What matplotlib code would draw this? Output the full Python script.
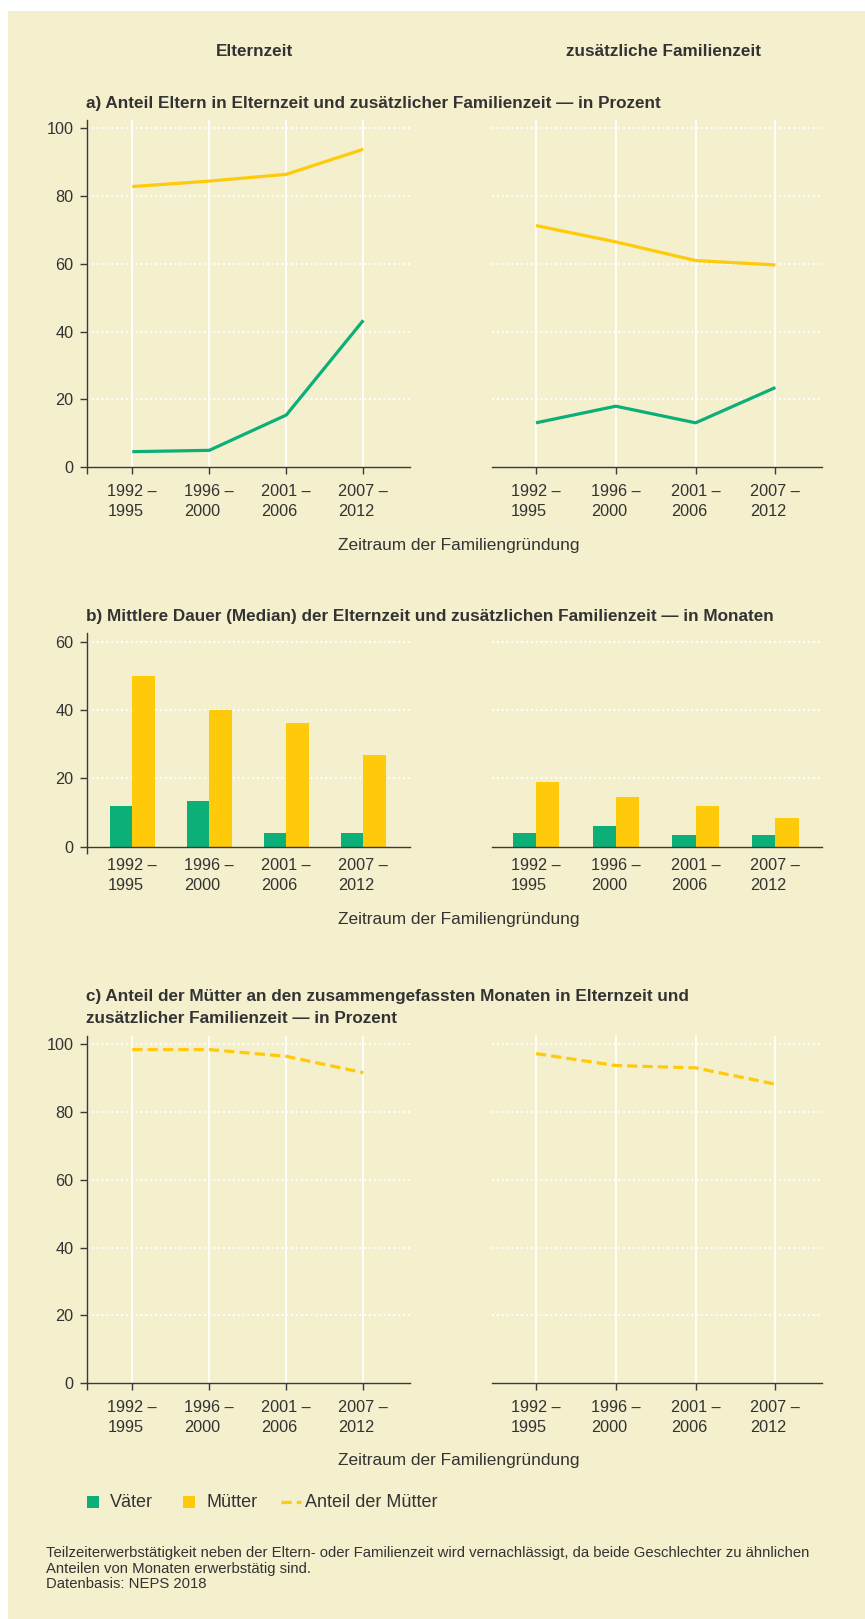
import matplotlib
matplotlib.use("Agg")
import matplotlib.pyplot as plt
from matplotlib.patches import Rectangle
from matplotlib.lines import Line2D

plt.rcParams['font.family'] = ['Liberation Sans', 'DejaVu Sans']

# data
periods = ["1992 –\n1995", "1996 –\n2000", "2001 –\n2006", "2007 –\n2012"]

# a) Anteil Eltern (Prozent)
a_eltern_vaeter = [4.6, 5.0, 15.4, 43.3]
a_eltern_muetter = [82.7, 84.3, 86.3, 93.7]
a_fam_vaeter = [13.1, 18.0, 13.1, 23.5]
a_fam_muetter = [71.2, 66.4, 60.9, 59.6]

# b) Median Dauer (Monate)
b_eltern_vaeter = [12, 13.4, 4, 4]
b_eltern_muetter = [50, 40, 36.3, 27]
b_fam_vaeter = [4, 6.1, 3.4, 3.4]
b_fam_muetter = [19, 14.6, 11.9, 8.4]

# c) Anteil der Mütter (Prozent)
c_eltern_anteil = [98.4, 98.4, 96.4, 91.6]
c_fam_anteil = [97.2, 93.7, 93.0, 88.2]

GREEN = "#0caf78"
YELLOW = "#ffca0a"
BG = "#f4efcd"
TXT = "#333333"
AX = "#3a3a3a"

W, H = 865, 1619
fig = plt.figure(figsize=(W / 100, H / 100), dpi=100)
fig.patch.set_facecolor("white")
fig.add_artist(Rectangle((8 / W, 0), 1 - 8 / W, 1 - 11 / H, transform=fig.transFigure,
                         facecolor=BG, edgecolor="none", zorder=-10))


def fy(ypx):
    return 1 - ypx / H


def make_ax(x0, x1, ytop, ybot, left):
    ax = fig.add_axes([x0 / W, fy(ybot), (x1 - x0) / W, (ybot - ytop) / H])
    ax.set_facecolor("none")
    for s in ["top", "right"]:
        ax.spines[s].set_visible(False)
    ax.spines["bottom"].set_color(AX)
    ax.spines["bottom"].set_linewidth(1.0)
    if left:
        ax.spines["left"].set_color(AX)
        ax.spines["left"].set_linewidth(1.0)
        ax.set_xlim(-0.584, 3.606)
    else:
        ax.spines["left"].set_visible(False)
        ax.set_xlim(-0.555, 3.58)
    ax.set_axisbelow(True)
    return ax


def style(ax, left, yticks, ytop, xgrid):
    ax.set_ylim(0, ytop)
    ax.set_yticks(yticks)
    ax.set_xticks(range(4))
    ax.set_xticklabels(periods, linespacing=1.45)
    for lab in ax.get_xticklabels():
        lab.set_multialignment("left")
    ax.tick_params(axis="both", labelsize=11.7, labelcolor=TXT, color=AX, width=1.0)
    ax.yaxis.grid(True, color="white", linestyle=(0, (1, 1.5)), linewidth=1.4)
    if xgrid:
        ax.xaxis.grid(True, color="white", linestyle="-", linewidth=1.3)
        ax.tick_params(axis="x", length=4.8, pad=7)
    else:
        ax.tick_params(axis="x", length=0, pad=8)
    if left:
        ax.tick_params(axis="y", length=5, pad=5)
        ax.set_xticks([ax.get_xlim()[0]], minor=True)
        ax.tick_params(axis="x", which="minor", length=4.8, width=1.0, color=AX)
    else:
        ax.tick_params(axis="y", length=0, labelleft=False)
    # hide the gridline at 0 behind the axis
    ax.get_ygridlines()[0].set_visible(False)


LX0, LX1 = 87.3, 410
RX0, RX1 = 491.7, 821.7
x = range(4)

# panel a
for left, v, m in [(True, a_eltern_vaeter, a_eltern_muetter), (False, a_fam_vaeter, a_fam_muetter)]:
    ax = make_ax(LX0 if left else RX0, LX1 if left else RX1, 120, 467.3, left)
    ax.plot(x, m, color=YELLOW, lw=2.3, solid_capstyle="butt")
    ax.plot(x, v, color=GREEN, lw=2.3, solid_capstyle="butt")
    style(ax, left, [0, 20, 40, 60, 80, 100], 102.3, True)

# panel b
bw = 0.29
for left, v, m in [(True, b_eltern_vaeter, b_eltern_muetter), (False, b_fam_vaeter, b_fam_muetter)]:
    ax = make_ax(LX0 if left else RX0, LX1 if left else RX1, 633.3, 846.7, left)
    ax.bar([i - bw / 2 for i in x], v, width=bw, color=GREEN)
    ax.bar([i + bw / 2 for i in x], m, width=bw, color=YELLOW)
    style(ax, left, [0, 20, 40, 60], 62.5, False)

# panel c
for left, c in [(True, c_eltern_anteil), (False, c_fam_anteil)]:
    ax = make_ax(LX0 if left else RX0, LX1 if left else RX1, 1036, 1383.3, left)
    ax.plot(x, c, color=YELLOW, lw=2.3, dashes=(3.2, 1.6))
    style(ax, left, [0, 20, 40, 60, 80, 100], 102.4, True)

# texts
TS = 12.3
fig.text(254 / W, fy(51.7), "Elternzeit", fontsize=TS, fontweight="bold", color=TXT,
         ha="center", va="center")
fig.text(663 / W, fy(51.7), "zusätzliche Familienzeit", fontsize=TS, fontweight="bold",
         color=TXT, ha="center", va="center")
fig.text(85.5 / W, fy(103.3),
         "a) Anteil Eltern in Elternzeit und zusätzlicher Familienzeit — in Prozent",
         fontsize=TS, fontweight="bold", color=TXT, ha="left", va="center")
fig.text(85.5 / W, fy(616),
         "b) Mittlere Dauer (Median) der Elternzeit und zusätzlichen Familienzeit — in Monaten",
         fontsize=TS, fontweight="bold", color=TXT, ha="left", va="center")
fig.text(85.5 / W, fy(996),
         "c) Anteil der Mütter an den zusammengefassten Monaten in Elternzeit und",
         fontsize=TS, fontweight="bold", color=TXT, ha="left", va="center")
fig.text(85.5 / W, fy(1018), "zusätzlicher Familienzeit — in Prozent",
         fontsize=TS, fontweight="bold", color=TXT, ha="left", va="center")

for yy in [545, 919, 1460.7]:
    fig.text(458.7 / W, fy(yy), "Zeitraum der Familiengründung", fontsize=12.4,
             color=TXT, ha="center", va="center")

# legend
ly = 1502
LS = 13
fig.add_artist(Rectangle((87 / W, fy(ly + 6)), 12 / W, 12 / H, transform=fig.transFigure,
                         facecolor=GREEN, edgecolor="none"))
fig.text(110 / W, fy(ly), "Väter", fontsize=LS, color=TXT, ha="left", va="center")
fig.add_artist(Rectangle((183 / W, fy(ly + 6)), 12 / W, 12 / H, transform=fig.transFigure,
                         facecolor=YELLOW, edgecolor="none"))
fig.text(206 / W, fy(ly), "Mütter", fontsize=LS, color=TXT, ha="left", va="center")
fig.add_artist(Line2D([281 / W, 301 / W], [fy(ly), fy(ly)], transform=fig.transFigure,
                      color=YELLOW, lw=2.3, dashes=(3.2, 1.6)))
fig.text(305 / W, fy(ly), "Anteil der Mütter", fontsize=LS, color=TXT, ha="left", va="center")

fig.text(45.8 / W, fy(1546),
         "Teilzeiterwerbstätigkeit neben der Eltern- oder Familienzeit wird vernachlässigt, "
         "da beide Geschlechter zu ähnlichen\nAnteilen von Monaten erwerbstätig sind.\n"
         "Datenbasis: NEPS 2018",
         fontsize=10.7, color=TXT, ha="left", va="top", linespacing=1.15)

fig.savefig("out.png", dpi=100, facecolor=fig.get_facecolor())
